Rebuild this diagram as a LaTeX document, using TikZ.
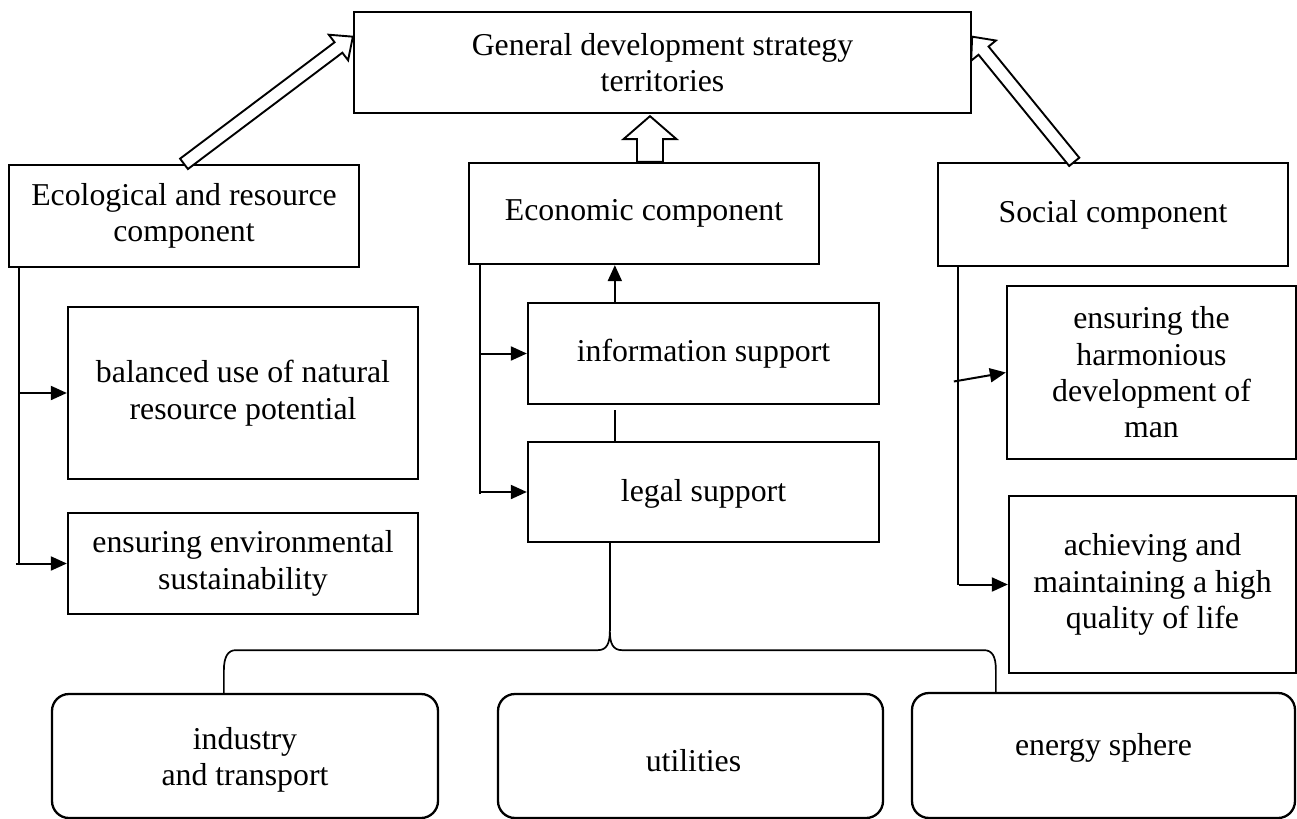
\documentclass[tikz,border=0pt]{standalone}
\usepackage{fontspec}
\setmainfont{Liberation Serif}
\usetikzlibrary{calc,arrows.meta}
\tikzset{
  txt/.style={inner sep=0pt, align=center, font=\fontsize{15.9pt}{18.2pt}\selectfont},
  box/.style={txt, draw, line width=1.15pt},
  rbox/.style={box, rounded corners=8.5pt},
  conn/.style={line width=1pt},
  tip/.style={-{Triangle[length=8pt,width=7pt]}},
  hollow/.style={draw, line width=0.95pt, fill=white, line join=miter},
}
\newcommand\hollowarrow[5]{%
  \coordinate (hbase) at ($(#2)!#3!(#1)$);
  \draw[hollow] ($(#1)!#4!90:(#2)$) -- ($(hbase)!#4!90:(#2)$) -- ($(hbase)!#5!90:(#2)$) -- (#2)
    -- ($(hbase)!#5!-90:(#2)$) -- ($(hbase)!#4!-90:(#2)$) -- ($(#1)!#4!-90:(#2)$) -- cycle;
}
\begin{document}
\begin{tikzpicture}[x=0.5pt,y=-0.5pt]
\useasboundingbox (0,0) rectangle (1297,819);

% top level
\node[box, minimum width=308.5pt, minimum height=50.5pt] (top) at (662.5,62.5) {General development strategy\\territories};

% components
\node[box, minimum width=175pt, minimum height=51pt] (eco) at (184,216) {Ecological and resource\\component};
\node[box, minimum width=175pt, minimum height=50.5pt] (econ) at (644,213.5) {Economic component};
\node[box, minimum width=175pt, minimum height=51.5pt] (soc) at (1113,214.5) {Social component};

% ecological sub-boxes
\node[box, minimum width=175pt, minimum height=86pt] (bal) at (243,393) {balanced use of natural\\resource potential};
\node[box, minimum width=175pt, minimum height=50.5pt] (env) at (243,563.5) {ensuring environmental\\sustainability};

% economic sub-boxes
\node[box, minimum width=175.5pt, minimum height=50.5pt] (info) at (703.5,353.5) {information support};
\node[box, minimum width=175.5pt, minimum height=50pt,
      label={[txt, yshift=-1pt]center:legal support}] (legal) at (703.5,492) {};

% social sub-boxes
\node[box, minimum width=144.5pt, minimum height=86.5pt] (harm) at (1151.5,372.5) {ensuring the\\harmonious\\development of\\man};
\node[box, minimum width=143.5pt, minimum height=88.5pt] (qual) at (1152.5,584.5) {achieving and\\maintaining a high\\quality of life};

% bottom spheres
\node[rbox, minimum width=193pt, minimum height=62pt,
      label={[txt, yshift=-2pt]center:industry\\and transport}] (ind) at (245,756) {};
\node[rbox, minimum width=192.5pt, minimum height=62pt,
      label={[txt, xshift=1.5pt, yshift=-2.5pt]center:utilities}] (util) at (690.5,756) {};
\node[rbox, minimum width=191.5pt, minimum height=62.5pt,
      label={[txt, yshift=4pt]center:energy sphere}] (energy) at (1103.5,755.5) {};

% hollow block arrows to the top box
\coordinate (ltail) at (eco.north);
\coordinate (ltip) at ($(top.north west)!0.25!(top.south west)$);
\hollowarrow{ltail}{ltip}{9pt}{3.25pt}{8pt}
\coordinate (rtail) at ($(soc.north west)!0.39!(soc.north east)$);
\coordinate (rtip) at ($(top.north east)!0.25!(top.south east)$);
\hollowarrow{rtail}{rtip}{9pt}{3.25pt}{8pt}
\coordinate (ctail) at ($(econ.north)+(6,0)$);
\coordinate (ctip) at ($(ctail |- top.south)+(0,2)$);
\hollowarrow{ctail}{ctip}{11.5pt}{6.5pt}{13.25pt}

% ecological connectors
\coordinate (et) at ($(eco.south west)+(11,0)$);
\draw[conn] (et) -- (et |- env.west);
\draw[conn,tip] ($(et |- bal.west)+(1,0)$) -- (bal.west);
\draw[conn,tip] ($(et |- env.west)+(-3,0)$) -- (env.west);

% economic connectors
\coordinate (nt) at ($(econ.south west)+(12,0)$);
\draw[conn] (nt) -- ($(nt |- legal.west)+(0,2)$);
\draw[conn,tip] (nt |- info.west) -- (info.west);
\draw[conn,tip] (nt |- legal.west) -- (legal.west);
\coordinate (iu) at ($(info.north west)+(88,0)$);
\draw[conn,tip] (iu) -- (iu |- econ.south);
\draw[conn] ($(iu |- info.south)+(0,5)$) -- (iu |- legal.north);

% legal support to the spheres (brace)
\coordinate (ld) at ($(legal.south west)+(83,0)$);
\coordinate (cusp) at ($(ld)+(0,88)$);
\coordinate (bh) at ($(cusp)+(0,19)$);
\coordinate (bl) at ($(ind.north west)+(173,0)$);
\coordinate (br) at ($(energy.north west)+(85,0)$);
\draw[conn] (ld) -- (cusp);
\draw[line width=0.85pt] (bl) -- ($(bl)+(0,-22)$)
  .. controls +(0,-14) and +(-8,0) .. ($(bl |- bh)+(12,0)$)
  -- ($(cusp |- bh)+(-12,0)$)
  .. controls +(9,0) and +(0,12) .. (cusp)
  .. controls +(0,12) and +(-9,0) .. ($(cusp |- bh)+(12,0)$)
  -- ($(br |- bh)+(-12,0)$)
  .. controls +(8,0) and +(0,-14) .. ($(br)+(0,-22)$)
  -- (br);

% social connectors
\coordinate (st) at ($(soc.south west)+(21,0)$);
\draw[conn] (st) -- (st |- qual.west);
\draw[conn,tip] ($(st |- harm.west)+(-4,9)$) -- (harm.west);
\draw[conn,tip] ($(st |- qual.west)+(1,0)$) -- (qual.west);
\end{tikzpicture}
\end{document}
